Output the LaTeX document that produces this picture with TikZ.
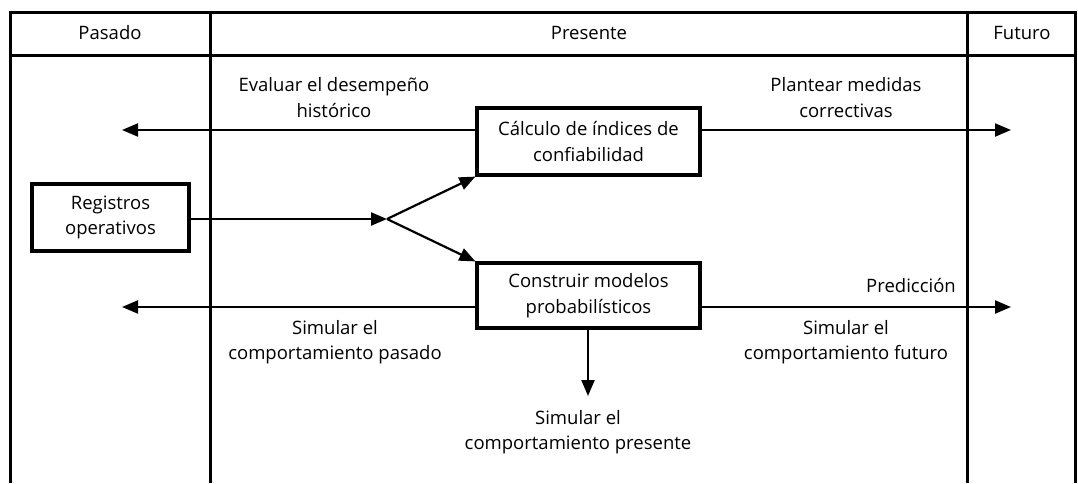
\documentclass[tikz,border=0pt]{standalone}
\usepackage{fontspec}
\setmainfont{Open Sans}
\usetikzlibrary{arrows.meta}
\begin{document}
\begin{tikzpicture}[x=1pt,y=-1pt,
  frame/.style={line width=3pt},
  conn/.style={line width=2.2pt,-{Triangle[length=16pt,width=13pt]}},
  boxnode/.style={draw,line width=3.2pt,align=center,inner sep=0pt,font=\fontsize{18.5}{25.5}\selectfont},
  lbl/.style={align=center,inner sep=0pt,font=\fontsize{18.5}{25.5}\selectfont}]
\useasboundingbox (0,0) rectangle (1078,483);
% frame
\draw[frame] (10,483) -- (10,12) -- (1075,12) -- (1075,483);
\draw[frame] (10,55) -- (1075,55);
\draw[frame] (210,12) -- (210,483);
\draw[frame] (967,12) -- (967,483);
\node[lbl] (hp) at (110,33) {Pasado};
\node[lbl] (hpr) at (589,33) {Presente};
\node[lbl] (hf) at (1022,33) {Futuro};
% boxes
\node[boxnode,minimum width=223pt,minimum height=67pt] (calc) at (588.5,141.5) {Cálculo de índices de\\confiabilidad};
\node[boxnode,minimum width=223pt,minimum height=65pt] (cons) at (588.5,295.5) {Construir modelos\\probabilísticos};
\node[boxnode,minimum width=157pt,minimum height=67pt] (reg) at (110.5,217.5) {Registros\\operativos};
% coordinates
\coordinate (j) at (387,219);
\coordinate (tl) at (122,130);
\coordinate (tr) at (1011,130);
\coordinate (bl) at (122,307);
\coordinate (br) at (1011,307);
\coordinate (dn) at (588,396);
% connectors
\draw[conn] (reg.east |- j) -- (j);
\draw[conn] (j) -- (calc.south west);
\draw[conn] (j) -- (cons.north west);
\draw[conn] (calc.west |- tl) -- (tl);
\draw[conn] (calc.east |- tr) -- (tr);
\draw[conn] (cons.west |- bl) -- (bl);
\draw[conn] (cons.east |- br) -- (br);
\draw[conn] (cons.south -| dn) -- (dn);
% labels
\node[lbl] (l1) at (334,97.5) {Evaluar el desempeño\\histórico};
\node[lbl] (l2) at (846,97.5) {Plantear medidas\\correctivas};
\node[lbl] (l3) at (911,285) {Predicción};
\node[lbl] (l4) at (335,342) {Simular el\\comportamiento pasado};
\node[lbl] (l5) at (846,342) {Simular el\\comportamiento futuro};
\node[lbl] (l6) at (578,432) {Simular el\\comportamiento presente};
\end{tikzpicture}
\end{document}
